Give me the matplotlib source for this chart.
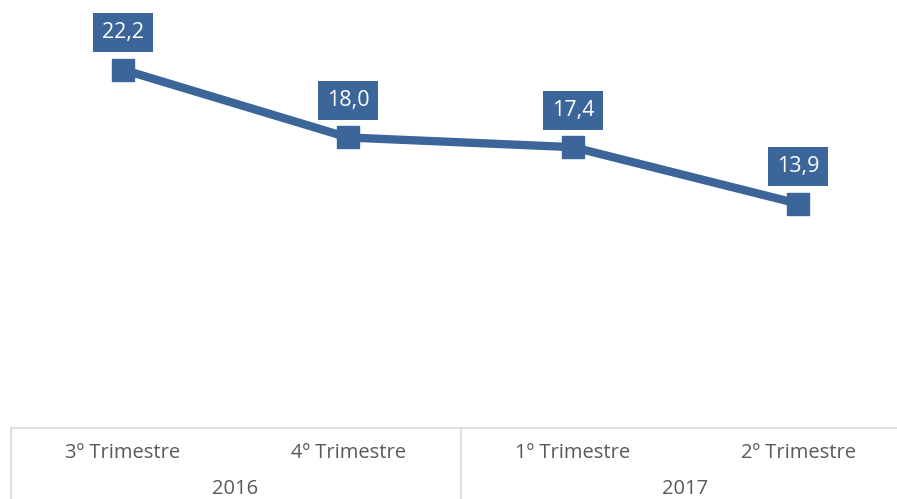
import matplotlib.pyplot as plt

plt.rcParams['font.family'] = ['Open Sans', 'DejaVu Sans']

quarters = ['3º Trimestre', '4º Trimestre', '1º Trimestre', '2º Trimestre']
years = ['2016', '2017']
values = [22.2, 18.0, 17.4, 13.9]
value_labels = ['22,2', '18,0', '17,4', '13,9']

blue = '#3C6699'
grid = '#D9D9D9'
txt = '#595959'

W, H, dpi = 897, 499, 100
fig = plt.figure(figsize=(W / dpi, H / dpi), dpi=dpi)
# plot area: left 10.5px, width 900px, bottom 71px (from bottom), height 428px
ax = fig.add_axes([10.5 / W, 71 / H, 900 / W, 428 / H])

x = list(range(len(values)))
ax.plot(x, values, color=blue, linewidth=6, marker='s', markersize=16.5,
        solid_capstyle='round', zorder=3)
ax.set_xlim(-0.5, 3.5)
ax.set_ylim(0, 428 / 16.14)

for xi, v, lab in zip(x, values, value_labels):
    ax.annotate(lab, (xi, v), xytext=(0, 26.5), textcoords='offset points',
                ha='center', va='center', color='white', fontsize=15.5,
                bbox=dict(boxstyle='square,pad=0.42', fc=blue, ec='none'))

for s in ax.spines.values():
    s.set_visible(False)
ax.set_xticks([])
ax.set_yticks([])

# category table under the plot
tr = ax.get_xaxis_transform()
ax.plot([-0.5, 3.6], [0, 0], transform=tr, color=grid, lw=1.2, clip_on=False)
for xb in [-0.5, 1.5]:
    ax.plot([xb, xb], [0, -0.2], transform=tr, color=grid, lw=1.2, clip_on=False)
for xi, q in zip(x, quarters):
    ax.text(xi, -25 / 428, q, transform=tr, ha='center', va='center',
            color=txt, fontsize=14.5)
for i, yr in enumerate(years):
    ax.text(2 * i + 0.5, -61 / 428, yr, transform=tr, ha='center', va='center',
            color=txt, fontsize=14.5)

fig.savefig('out.png', dpi=dpi)
